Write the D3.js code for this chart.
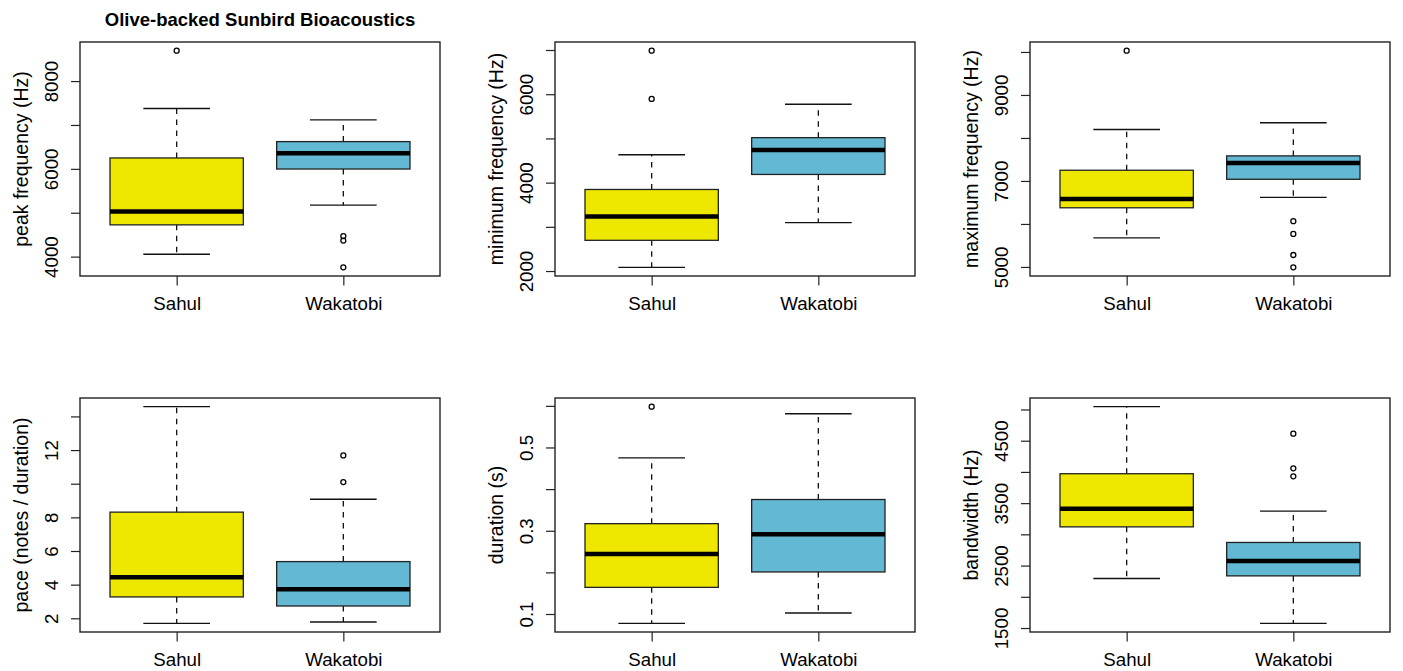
<!DOCTYPE html>
<html>
<head>
<meta charset="utf-8">
<title>Olive-backed Sunbird Bioacoustics</title>
<script src="https://cdn.jsdelivr.net/npm/d3@7"></script>
<style>
body { margin: 0; background: #fff; overflow: hidden; }
text { font-family: "Liberation Sans", Arial, sans-serif; fill: #000; }
.tick line { stroke: #222; stroke-width: 1.2; }
.tick text { font-size: 18.7px; }
.axis-name { font-size: 19.5px; }
.group-label { font-size: 19.5px; }
.title { font-size: 18.5px; font-weight: bold; }
</style>
</head>
<body>
<svg width="1403" height="671"></svg>
<script>
// groups and fills
const groups = ['Sahul', 'Wakatobi'];
const fills = ['#EEE800', '#63B8D3'];

// per variable: [lower whisker, Q1, median, Q3, upper whisker] for each group
const peakStats = [[4053, 4724, 5029, 6248, 7376], [5173, 5996, 6354, 6621, 7116]];
const peakOut = [[8693], [4469, 4366, 3756]];
const peakTicks = [4000, 5000, 6000, 7000, 8000];
const peakLabels = [4000, 6000, 8000];

const minStats = [[2084, 2695, 3232, 3845, 4630], [3096, 4185, 4737, 5017, 5773]];
const minOut = [[6985, 5893], []];
const minTicks = [2000, 3000, 4000, 5000, 6000, 7000];
const minLabels = [2000, 4000, 6000];

const maxStats = [[5675, 6376, 6579, 7249, 8197], [6619, 7039, 7419, 7583, 8353]];
const maxOut = [[10030], [6065, 5769, 5278, 4991]];
const maxTicks = [5000, 6000, 7000, 8000, 9000, 10000];
const maxLabels = [5000, 7000, 9000];

const paceStats = [[1.70, 3.27, 4.44, 8.31, 14.58], [1.78, 2.73, 3.73, 5.37, 9.08]];
const paceOut = [[], [11.68, 10.10]];
const paceTicks = [2, 4, 6, 8, 10, 12, 14];
const paceLabels = [2, 4, 6, 8, 12];

const durStats = [[0.0776, 0.164, 0.244, 0.317, 0.475], [0.1024, 0.201, 0.2916, 0.375, 0.581]];
const durOut = [[0.598], []];
const durTicks = [0.1, 0.2, 0.3, 0.4, 0.5, 0.6];
const durLabels = [0.1, 0.3, 0.5];

const bwStats = [[2293, 3120, 3409, 3971, 5045], [1575, 2335, 2575, 2870, 3372]];
const bwOut = [[], [4612, 4057, 3929]];
const bwTicks = [1500, 2000, 2500, 3000, 3500, 4000, 4500, 5000];
const bwLabels = [1500, 2500, 3500, 4500];

const panels = [
  { name: 'peak frequency (Hz)', stats: peakStats, out: peakOut, ticks: peakTicks, labels: peakLabels, col: 0, row: 0 },
  { name: 'minimum frequency (Hz)', stats: minStats, out: minOut, ticks: minTicks, labels: minLabels, col: 1, row: 0 },
  { name: 'maximum frequency (Hz)', stats: maxStats, out: maxOut, ticks: maxTicks, labels: maxLabels, col: 2, row: 0 },
  { name: 'pace (notes / duration)', stats: paceStats, out: paceOut, ticks: paceTicks, labels: paceLabels, col: 0, row: 1 },
  { name: 'duration (s)', stats: durStats, out: durOut, ticks: durTicks, labels: durLabels, col: 1, row: 1 },
  { name: 'bandwidth (Hz)', stats: bwStats, out: bwOut, ticks: bwTicks, labels: bwLabels, col: 2, row: 1 }
];

const svg = d3.select('svg');
svg.append('rect').attr('width', 1403).attr('height', 671).attr('fill', '#fff');

const colX = [80, 555, 1030];
const rowY = [42, 398];
const plotW = 360, plotH = 234;

panels.forEach(p => {
  const g = svg.append('g').attr('transform', `translate(${colX[p.col]},${rowY[p.row]})`);

  // R style range: data extent padded by 4%
  const all = p.stats.flat().concat(p.out.flat());
  const [lo, hi] = d3.extent(all);
  const pad = (hi - lo) * 0.04;
  const y = d3.scaleLinear().domain([lo - pad, hi + pad]).range([plotH, 0]);
  const x = d3.scaleLinear().domain([0.42, 2.58]).range([0, plotW]);
  const bw = x(1.4) - x(1);   // half box width (0.4)
  const cw = x(1.2) - x(1);   // half cap width

  const fmt = d => p.labels.includes(d) ? String(d) : '';
  const yAxis = g.append('g').call(d3.axisLeft(y).tickValues(p.ticks).tickSize(9).tickFormat(fmt));
  yAxis.select('.domain').remove();
  yAxis.selectAll('.tick text')
    .attr('x', null).attr('dy', null)
    .attr('text-anchor', 'middle')
    .attr('transform', 'translate(-21.7,0) rotate(-90)');

  const xAxis = g.append('g').attr('transform', `translate(0,${plotH})`)
    .call(d3.axisBottom(x).tickValues([1, 2]).tickSize(9.5).tickFormat(() => ''));
  xAxis.select('.domain').remove();
  xAxis.selectAll('.tick')
    .append('text').attr('class', 'group-label')
    .attr('y', 34).attr('text-anchor', 'middle')
    .text((d, i) => groups[i]);

  g.append('text').attr('class', 'axis-name')
    .attr('text-anchor', 'middle')
    .attr('transform', `translate(-52.5,${plotH / 2}) rotate(-90)`)
    .text(p.name);

  p.stats.forEach((s, i) => {
    const cx = x(i + 1);
    const [wl, q1, md, q3, wh] = s;
    // whiskers
    g.append('line').attr('x1', cx).attr('x2', cx).attr('y1', y(q3)).attr('y2', y(wh))
      .attr('stroke', '#111').attr('stroke-width', 1.3).attr('stroke-dasharray', '5.5,5.5');
    g.append('line').attr('x1', cx).attr('x2', cx).attr('y1', y(q1)).attr('y2', y(wl))
      .attr('stroke', '#111').attr('stroke-width', 1.3).attr('stroke-dasharray', '5.5,5.5');
    [wl, wh].forEach(v => {
      g.append('line').attr('x1', cx - cw).attr('x2', cx + cw).attr('y1', y(v)).attr('y2', y(v))
        .attr('stroke', '#111').attr('stroke-width', 1.4);
    });
    g.append('rect').attr('x', cx - bw).attr('width', 2 * bw)
      .attr('y', y(q3)).attr('height', y(q1) - y(q3))
      .attr('fill', fills[i]).attr('stroke', '#222').attr('stroke-width', 1.3);
    g.append('line').attr('x1', cx - bw).attr('x2', cx + bw).attr('y1', y(md)).attr('y2', y(md))
      .attr('stroke', '#000').attr('stroke-width', 4.5);
    g.selectAll(null).data(p.out[i]).enter().append('circle')
      .attr('cx', cx).attr('cy', d => y(d)).attr('r', 2.5)
      .attr('fill', 'none').attr('stroke', '#000').attr('stroke-width', 1.3);
  });

  g.append('rect').attr('width', plotW).attr('height', plotH)
    .attr('fill', 'none').attr('stroke', '#222').attr('stroke-width', 1.4);
});

svg.append('text').attr('class', 'title')
  .attr('x', colX[0] + plotW / 2).attr('y', 26)
  .attr('text-anchor', 'middle')
  .text('Olive-backed Sunbird Bioacoustics');
</script>
</body>
</html>
